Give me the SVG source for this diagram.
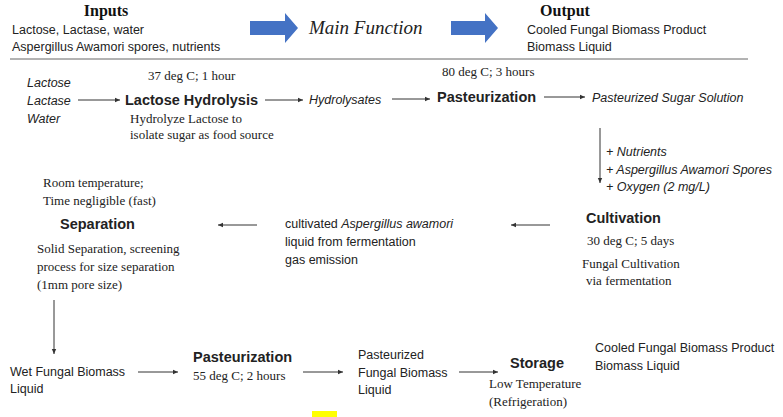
<svg xmlns="http://www.w3.org/2000/svg" width="783" height="417" viewBox="0 0 783 417">
<style>
.s{font-family:"Liberation Sans",Arial,sans-serif;font-size:12.5px;fill:#222}
.i{font-style:italic}
.b{font-weight:bold;font-size:14.5px}
.r{font-family:"Liberation Serif","Times New Roman",serif;font-size:13px;fill:#222}
.h{font-family:"Liberation Serif",serif;font-weight:bold;font-size:16px;fill:#111}
.c line{stroke:#333;stroke-width:1}
</style>
<defs><marker id="a" markerWidth="6" markerHeight="6" refX="5" refY="3" orient="auto" markerUnits="userSpaceOnUse"><path d="M0,0.8L5,3L0,5.2z" fill="#333"/></marker></defs>
<rect width="783" height="417" fill="#fff"/>
<g id="header">
<text class="h" x="106" y="16" text-anchor="middle">Inputs</text>
<text class="s" x="12" y="34">Lactose, Lactase, water</text>
<text class="s" x="12" y="51">Aspergillus Awamori spores, nutrients</text>
<path d="M250,21H285V13L298,28L285,43V35H250Z" fill="#4472c4"/>
<text x="309" y="34" style="font-family:'Liberation Serif',serif;font-style:italic;font-size:19px;fill:#222">Main Function</text>
<path d="M451,21H485V13L498,28L485,43V35H451Z" fill="#4472c4"/>
<text class="h" x="565" y="16" text-anchor="middle">Output</text>
<text class="s" x="527" y="34">Cooled Fungal Biomass Product</text>
<text class="s" x="527" y="51">Biomass Liquid</text>
<line x1="10" y1="59" x2="748" y2="59" stroke="#666" stroke-width="1"/>
</g>
<g id="inputs1"><text class="s i" x="27" y="87">Lactose</text><text class="s i" x="27" y="105">Lactase</text><text class="s i" x="27" y="123">Water</text></g>
<g id="hydrolysis"><text class="r" x="148" y="80">37 deg C; 1 hour</text><text class="s b" x="125" y="105">Lactose Hydrolysis</text><text class="r" x="130" y="123">Hydrolyze Lactose to</text><text class="r" x="130" y="139">isolate sugar as food source</text></g>
<g id="hydrolysates"><text class="s i" x="309" y="104">Hydrolysates</text></g>
<g id="past1"><text class="r" x="442" y="76">80 deg C; 3 hours</text><text class="s b" x="437" y="102">Pasteurization</text></g>
<g id="sugar"><text class="s i" x="592" y="102">Pasteurized Sugar Solution</text></g>
<g id="additions"><text class="s i" x="606" y="156">+ Nutrients</text><text class="s i" x="606" y="174">+ Aspergillus Awamori Spores</text><text class="s i" x="606" y="191">+ Oxygen (2 mg/L)</text></g>
<g id="cultivation"><text class="s b" x="586" y="223">Cultivation</text><text class="r" x="587" y="245">30 deg C; 5 days</text><text class="r" x="582" y="268">Fungal Cultivation</text><text class="r" x="586" y="285">via fermentation</text></g>
<g id="cultivated"><text class="s" x="285" y="228">cultivated <tspan class="i">Aspergillus awamori</tspan></text><text class="s" x="285" y="246">liquid from fermentation</text><text class="s" x="285" y="264">gas emission</text></g>
<g id="separation"><text class="r" x="43" y="187">Room temperature;</text><text class="r" x="43" y="205">Time negligible (fast)</text><text class="s b" x="60" y="229">Separation</text><text class="r" x="37" y="253">Solid Separation, screening</text><text class="r" x="37" y="271">process for size separation</text><text class="r" x="37" y="289">(1mm pore size)</text></g>
<g id="wet"><text class="s" x="10" y="376">Wet Fungal Biomass</text><text class="s" x="10" y="393">Liquid</text></g>
<g id="past2"><text class="s b" x="193" y="362">Pasteurization</text><text class="r" x="193" y="380">55 deg C; 2 hours</text></g>
<g id="pastliquid"><text class="s" x="358" y="359">Pasteurized</text><text class="s" x="358" y="377">Fungal Biomass</text><text class="s" x="358" y="394">Liquid</text></g>
<g id="storage"><text class="s b" x="510" y="368">Storage</text><text class="r" x="489" y="388">Low Temperature</text><text class="r" x="489" y="406">(Refrigeration)</text></g>
<g id="output2"><text class="s" x="595" y="352">Cooled Fungal Biomass Product</text><text class="s" x="595" y="370">Biomass Liquid</text></g>
<g class="c" id="connectors">
<line x1="78" y1="100" x2="120" y2="100" marker-end="url(#a)"/>
<line x1="265" y1="100" x2="303" y2="100" marker-end="url(#a)"/>
<line x1="392" y1="99" x2="430" y2="99" marker-end="url(#a)"/>
<line x1="544" y1="97" x2="585" y2="97" marker-end="url(#a)"/>
<line x1="600" y1="128" x2="600" y2="183" marker-end="url(#a)"/>
<line x1="550" y1="225" x2="511" y2="225" marker-end="url(#a)"/>
<line x1="257" y1="225" x2="218" y2="225" marker-end="url(#a)"/>
<line x1="54" y1="300" x2="54" y2="354" marker-end="url(#a)"/>
<line x1="138" y1="372" x2="178" y2="372" marker-end="url(#a)"/>
<line x1="303" y1="372" x2="343" y2="372" marker-end="url(#a)"/>
<line x1="459" y1="372" x2="498" y2="372" marker-end="url(#a)"/>
</g>
<rect x="312" y="411" width="25" height="6" fill="#ffff00"/>
</svg>
